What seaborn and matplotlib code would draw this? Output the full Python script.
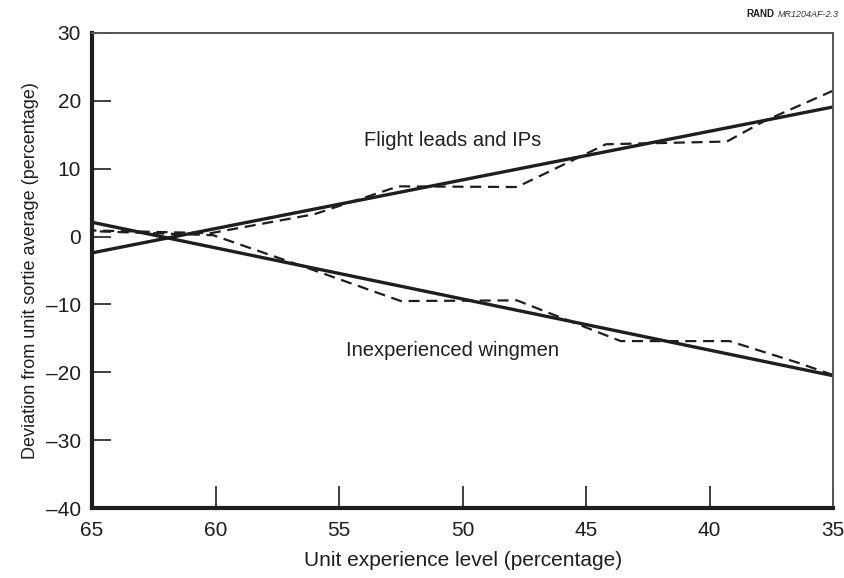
import numpy as np
import pandas as pd
import seaborn as sns
import matplotlib.pyplot as plt

# Values
lead_fit_x = [65, 35]
lead_fit_y = [-2.4, 19.1]
wing_fit_x = [65, 35]
wing_fit_y = [2.1, -20.5]

lead_obs_x = [65, 60.2, 56.0, 52.6, 47.8, 44.2, 39.3, 37.8, 35]
lead_obs_y = [0.9, 0.5, 3.3, 7.4, 7.3, 13.6, 14.0, 17.0, 21.5]
wing_obs_x = [65, 60.1, 56.3, 52.5, 47.8, 43.6, 39.2, 36.5, 35]
wing_obs_y = [0.8, 0.2, -4.6, -9.5, -9.4, -15.4, -15.4, -18.5, -20.4]

x_ticks = [65, 60, 55, 50, 45, 40, 35]
y_ticks = [30, 20, 10, 0, -10, -20, -30, -40]

sns.set_theme(style="ticks")
plt.rcParams['font.family'] = ['Liberation Sans', 'DejaVu Sans']

fig = plt.figure(figsize=(8.45, 5.78), dpi=100)
ax = fig.add_axes([0.109, 0.121, 0.877, 0.822])

ink = "#1e1e1e"
sns.lineplot(x=lead_fit_x, y=lead_fit_y, ax=ax, color=ink, lw=2.4)
sns.lineplot(x=wing_fit_x, y=wing_fit_y, ax=ax, color=ink, lw=2.4)
sns.lineplot(x=lead_obs_x, y=lead_obs_y, ax=ax, color=ink, lw=1.6, linestyle=(0, (5, 3)))
sns.lineplot(x=wing_obs_x, y=wing_obs_y, ax=ax, color=ink, lw=1.6, linestyle=(0, (5, 3)))

ax.set_xlim(65, 35)
ax.set_ylim(-40, 30)
ax.set_xticks(x_ticks)
ax.set_yticks(y_ticks)
ax.set_yticklabels([f"{v}".replace("-", "\u2013") for v in y_ticks])
ax.tick_params(axis='both', direction='in', width=1.2, colors=ink, labelsize=15)
ax.tick_params(axis='x', length=16, pad=9)
ax.tick_params(axis='y', length=14, pad=8)

for side in ['left', 'bottom']:
    ax.spines[side].set_linewidth(3)
    ax.spines[side].set_color(ink)
for side in ['top', 'right']:
    ax.spines[side].set_linewidth(1.4)
    ax.spines[side].set_color("#555555")

ax.set_xlabel("Unit experience level (percentage)", fontsize=15, color=ink, labelpad=8)
ax.set_ylabel("Deviation from unit sortie average (percentage)", fontsize=13,
              color=ink, labelpad=5)

ax.text(50.4, 14.2, "Flight leads and IPs", ha='center', va='center', fontsize=14.5,
        color=ink)
ax.text(50.4, -16.8, "Inexperienced wingmen", ha='center', va='center', fontsize=14.5,
        color=ink)

# figure id in the top-right corner
fig.text(0.992, 0.975, "MR1204AF-2.3", ha='right', va='center', fontsize=6.5,
         style='italic', color="#333333")
fig.text(0.916, 0.975, "RAND", ha='right', va='center', fontsize=7, fontweight='bold',
         color=ink)

fig.savefig("out.png", dpi=100)
